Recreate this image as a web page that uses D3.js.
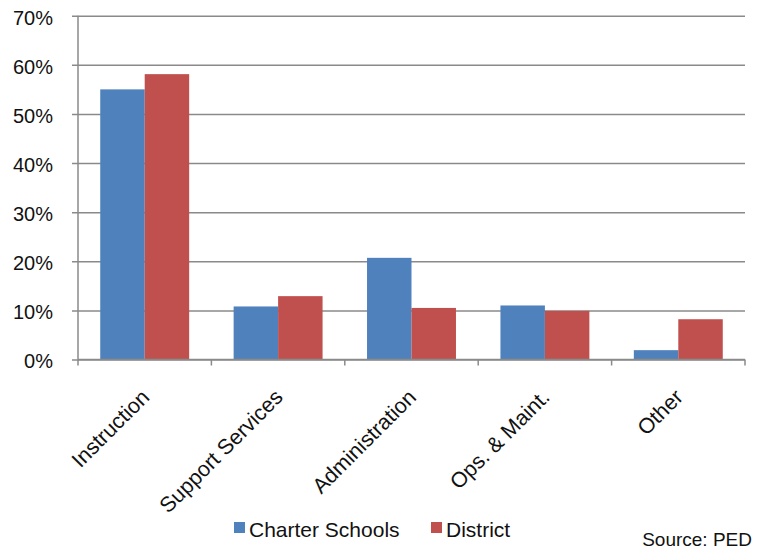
<!DOCTYPE html>
<html>
<head>
<meta charset="utf-8">
<script src="https://cdn.jsdelivr.net/npm/d3@7"></script>
<style>
  html, body { margin: 0; padding: 0; background: #fff; }
  svg { display: block; }
  text { font-family: Arial, "Liberation Sans", sans-serif; fill: #111; }
</style>
</head>
<body>
<svg id="chart" width="758" height="548"></svg>
<script>
const categories = ["Instruction", "Support Services", "Administration", "Ops. & Maint.", "Other"];
const seriesNames = ["Charter Schools", "District"];
const charterValues = [0.550, 0.108, 0.207, 0.110, 0.019];
const districtValues = [0.581, 0.129, 0.105, 0.099, 0.082];
const yTicks = [0, 0.1, 0.2, 0.3, 0.4, 0.5, 0.6, 0.7];
const colors = ["#4F81BD", "#C0504D"];
const sourceText = "Source: PED";

(function () {
const svg = d3.select("#chart");
const mLeft = 78, mRight = 745, mTop = 15.7, mBottom = 359.5;

const x = d3.scaleBand().domain(categories).range([mLeft, mRight]).paddingInner(0).paddingOuter(0);
const x1 = d3.scaleBand().domain(seriesNames).range([0, x.bandwidth()]).paddingInner(0).paddingOuter(0.5);
const y = d3.scaleLinear().domain([0, 0.7]).range([mBottom, mTop]);

const gridColor = "#8a8a8a";

// Y axis with gridlines
const yAxis = svg.append("g").attr("transform", `translate(${mLeft},0)`)
  .call(d3.axisLeft(y).tickValues(yTicks).tickFormat(d3.format(".0%")).tickSizeOuter(0).tickSizeInner(6).tickPadding(0));
yAxis.select(".domain").remove();
yAxis.selectAll(".tick line").attr("x1", -6).attr("x2", mRight - mLeft).attr("stroke", gridColor).attr("stroke-width", 1.5);
yAxis.selectAll(".tick text").attr("x", -25).attr("dy", "0.42em").attr("font-size", 20).attr("fill", "#111")
  .attr("font-family", "Arial, 'Liberation Sans', sans-serif");

// left axis line
svg.append("line").attr("x1", mLeft).attr("x2", mLeft).attr("y1", y(0.7)).attr("y2", y(0))
  .attr("stroke", gridColor).attr("stroke-width", 1.5);

// Bars
const data = categories.map((c, i) => ({ cat: c, vals: [charterValues[i], districtValues[i]] }));
const groups = svg.append("g").selectAll("g").data(data).join("g")
  .attr("transform", d => `translate(${x(d.cat)},0)`);
groups.selectAll("rect").data(d => d.vals.map((v, j) => ({ s: seriesNames[j], v, j })))
  .join("rect")
  .attr("x", d => x1(d.s))
  .attr("width", x1.bandwidth())
  .attr("y", d => y(d.v))
  .attr("height", d => y(0) - y(d.v))
  .attr("fill", d => colors[d.j]);

// X axis line and ticks at category boundaries
svg.append("line").attr("x1", mLeft).attr("x2", mRight).attr("y1", y(0)).attr("y2", y(0))
  .attr("stroke", gridColor).attr("stroke-width", 1.5);
const boundaries = categories.map(c => x(c)).concat([x.range()[1]]);
svg.append("g").selectAll("line").data(boundaries).join("line")
  .attr("x1", d => d).attr("x2", d => d)
  .attr("y1", y(0)).attr("y2", y(0) + 6)
  .attr("stroke", gridColor).attr("stroke-width", 1.5);

// Category labels rotated
svg.append("g").selectAll("text").data(categories).join("text")
  .attr("transform", d => `translate(${x(d) + x.bandwidth() / 2 + 6},${y(0) + 39}) rotate(-45)`)
  .attr("text-anchor", "end")
  .attr("font-size", 21.5)
  .text(d => d);

// Legend
const legend = svg.append("g");
const legendItems = [{ name: seriesNames[0], x: 234 }, { name: seriesNames[1], x: 431 }];
legendItems.forEach((it, i) => {
  legend.append("rect").attr("x", it.x).attr("y", 522).attr("width", 11).attr("height", 11).attr("fill", colors[i]);
  legend.append("text").attr("x", it.x + 15).attr("y", 536.5).attr("font-size", 21).text(it.name);
});

// Source
svg.append("text").attr("x", 752).attr("y", 546).attr("text-anchor", "end").attr("font-size", 19).text(sourceText);
})();
</script>
</body>
</html>
